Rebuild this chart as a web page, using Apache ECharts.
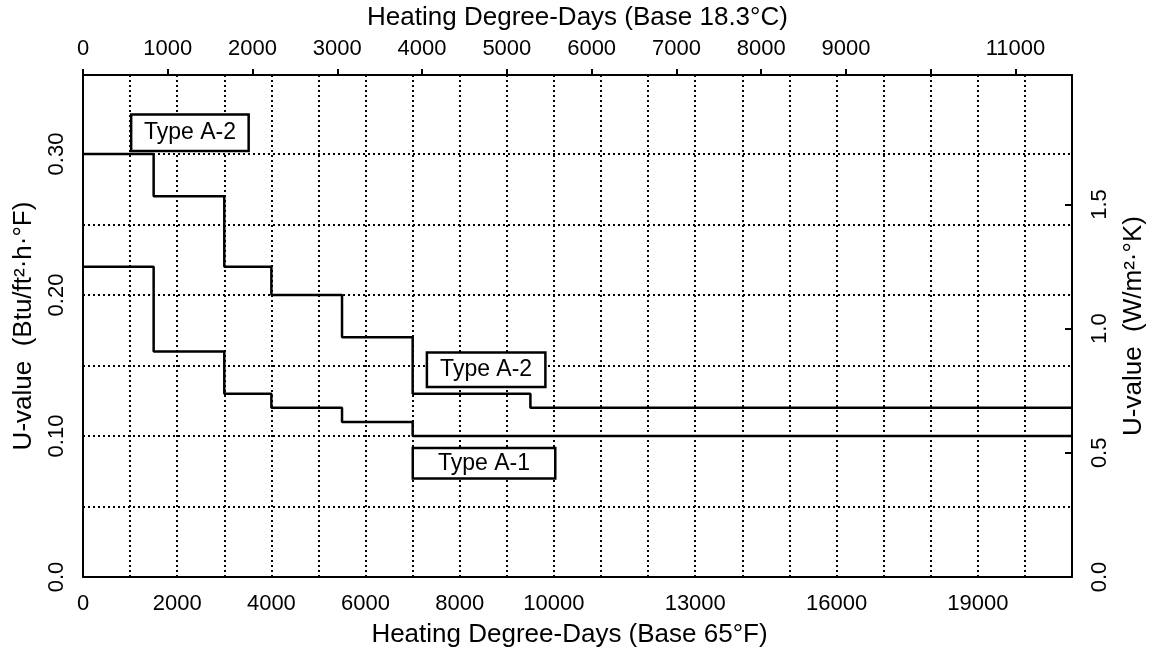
<!DOCTYPE html>
<html>
<head>
<meta charset="utf-8">
<title>U-value vs Heating Degree-Days</title>
<script src="https://cdn.jsdelivr.net/npm/echarts@6/dist/echarts.min.js"></script>
<style>
  html, body { margin: 0; padding: 0; background: #fff; }
  #chart { width: 1155px; height: 656px; }
</style>
</head>
<body>
<div id="chart"></div>
<script>
const fontFamily = '"Liberation Sans", Arial, Helvetica, sans-serif'

// degree-days (base 65 F) where each step begins, and the U-value (Btu/ft2.h.F) held from there
const typeA2Steps = [0, 1500, 3000, 4000, 5500, 7000, 9500, 21000]
const typeA2Values = [0.30, 0.27, 0.22, 0.20, 0.17, 0.13, 0.12, 0.12]
const typeA1Steps = [0, 1500, 3000, 4000, 5500, 7000, 21000]
const typeA1Values = [0.22, 0.16, 0.13, 0.12, 0.11, 0.10, 0.10]

const bottomLabels = [0, 2000, 4000, 6000, 8000, 10000, 13000, 16000, 19000]
const topTicks = [0, 1000, 2000, 3000, 4000, 5000, 6000, 7000, 8000, 9000, 10000, 11000]
const topLabels = [0, 1000, 2000, 3000, 4000, 5000, 6000, 7000, 8000, 9000, 11000]
const leftLabels = [0, 0.1, 0.2, 0.3]
const rightTicks = [0.5, 1.0, 1.5]
const rightLabels = [0, 0.5, 1.0, 1.5]
const gridLevels = [0.05, 0.10, 0.15, 0.20, 0.25, 0.30]

const boxNames = ['Type A-2', 'Type A-2', 'Type A-1']
const boxAt = [[2270, 0.315], [8560, 0.147], [8515, 0.0806]]
const boxSize = [[119, 38], [120, 36], [144, 32]]

const xMax = 21000
const yMax = 0.356
const btuToW = 5.678

const dotted = { color: '#000', width: 2, type: [2, 3] }
const nameStyle = { fontSize: 26, color: '#000', fontFamily: fontFamily }
const labelFont = 22

const chart = echarts.init(document.getElementById('chart'))

const option = {
  animation: false,
  backgroundColor: '#fff',
  textStyle: { fontFamily: fontFamily, color: '#000' },
  grid: { left: 83, right: 78, top: 69, bottom: 79 },
  xAxis: [
    {
      type: 'value',
      position: 'bottom',
      min: 0,
      max: xMax,
      interval: 1000,
      name: 'Heating Degree-Days (Base 65\u00b0F)',
      nameLocation: 'middle',
      nameGap: 45,
      nameTextStyle: { ...nameStyle, padding: [0, 16, 0, 0] },
      axisLine: { onZero: false, lineStyle: { color: '#000', width: 2 } },
      axisTick: { show: false },
      axisLabel: {
        customValues: bottomLabels,
        margin: 16,
        fontSize: labelFont,
        color: '#000',
        fontFamily: fontFamily,
        formatter: v => String(v),
      },
      splitLine: { show: true, showMinLine: false, showMaxLine: false, lineStyle: dotted },
    },
    {
      type: 'value',
      position: 'top',
      min: 0,
      max: xMax * 5 / 9,
      name: 'Heating Degree-Days (Base 18.3\u00b0C)',
      nameLocation: 'middle',
      nameGap: 44,
      nameTextStyle: nameStyle,
      axisLine: { onZero: false, lineStyle: { color: '#000', width: 2 } },
      axisTick: { show: true, inside: false, customValues: topTicks, length: 6, lineStyle: { color: '#000', width: 2 } },
      axisLabel: {
        customValues: topLabels,
        margin: 15,
        fontSize: labelFont,
        color: '#000',
        fontFamily: fontFamily,
        formatter: v => String(v),
      },
      splitLine: { show: false },
    },
  ],
  yAxis: [
    {
      type: 'value',
      position: 'left',
      min: 0,
      max: yMax,
      name: 'U-value  (Btu/ft\u00b2\u00b7h\u00b7\u00b0F)',
      nameLocation: 'middle',
      nameRotate: 90,
      nameGap: 46,
      nameTextStyle: nameStyle,
      axisLine: { show: true, onZero: false, lineStyle: { color: '#000', width: 2 } },
      axisTick: { show: false },
      axisLabel: {
        customValues: leftLabels,
        rotate: 90,
        margin: 15,
        fontSize: labelFont,
        color: '#000',
        fontFamily: fontFamily,
        formatter(v) {
          return v === 0 ? '0.0' : v.toFixed(2)
        },
      },
      splitLine: { show: false },
    },
    {
      type: 'value',
      position: 'right',
      min: 0,
      max: yMax * btuToW,
      name: 'U-value  (W/m\u00b2\u00b7\u00b0K)',
      nameLocation: 'middle',
      nameRotate: 90,
      nameGap: 49,
      nameTextStyle: nameStyle,
      axisLine: { show: true, onZero: false, lineStyle: { color: '#000', width: 2 } },
      axisTick: { show: true, inside: true, customValues: rightTicks, length: 7, lineStyle: { color: '#000', width: 2 } },
      axisLabel: {
        customValues: rightLabels,
        rotate: 90,
        margin: 17,
        fontSize: labelFont,
        color: '#000',
        fontFamily: fontFamily,
        formatter(v) {
          return v.toFixed(1)
        },
      },
      splitLine: { show: false },
    },
  ],
  series: [
    {
      name: 'grid',
      type: 'line',
      data: [],
      silent: true,
      markLine: {
        silent: true,
        z: 1,
        symbol: 'none',
        label: { show: false },
        lineStyle: dotted,
        emphasis: { disabled: true },
        data: gridLevels.map(v => ({ yAxis: v })),
      },
    },
    {
      name: 'Type A-1',
      type: 'line',
      step: 'end',
      z: 3,
      symbol: 'none',
      lineStyle: { color: '#000', width: 2.5 },
      data: typeA1Steps.map((x, i) => [x, typeA1Values[i]]),
    },
    {
      name: 'Type A-2',
      type: 'line',
      step: 'end',
      z: 3,
      symbol: 'none',
      lineStyle: { color: '#000', width: 2.5 },
      data: typeA2Steps.map((x, i) => [x, typeA2Values[i]]),
      markPoint: {
        z: 10,
        silent: true,
        data: boxNames.map((name, i) => ({
          coord: boxAt[i],
          symbol: 'rect',
          symbolSize: 1,
          itemStyle: { color: 'rgba(0,0,0,0)' },
          label: {
            show: true,
            position: 'inside',
            formatter: name,
            fontSize: 23,
            color: '#000',
            fontFamily: fontFamily,
            backgroundColor: '#fff',
            borderColor: '#000',
            borderWidth: 2.5,
            width: boxSize[i][0] - 4,
            height: boxSize[i][1] - 4,
            lineHeight: boxSize[i][1] - 4,
            align: 'center',
            verticalAlign: 'middle',
            padding: 0,
          },
        })),
      },
    },
  ],
}

chart.setOption(option)
</script>
</body>
</html>
